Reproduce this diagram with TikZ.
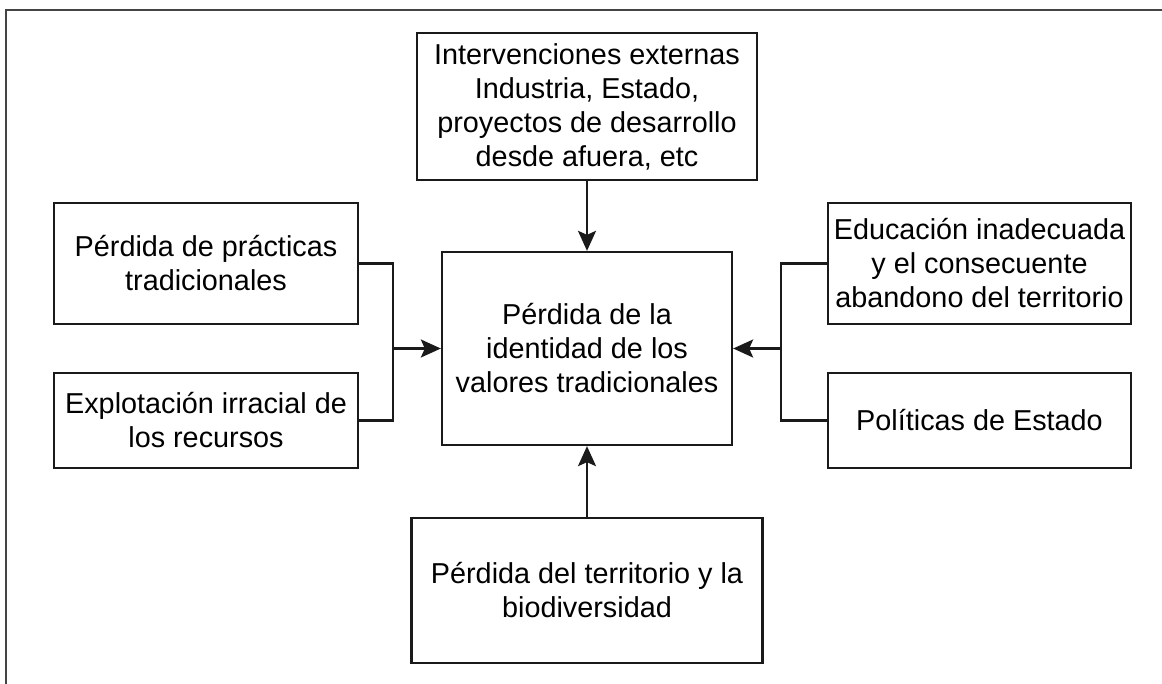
\documentclass[tikz,border=0pt]{standalone}
\usepackage{fontspec}
\setmainfont{Liberation Sans}
\usetikzlibrary{arrows.meta}
\definecolor{framegray}{HTML}{444444}
\definecolor{boxline}{HTML}{1A1A1A}
\tikzset{
  box/.style={draw=boxline, line width=2.3pt, rectangle, inner sep=0pt, align=center,
    font=\fontsize{28.8}{34}\selectfont, text=black},
  conn/.style={draw=boxline, line width=2.3pt},
  arr/.style={conn, -{Stealth[length=20pt,width=18pt,inset=4pt]}},
}
\begin{document}
\begin{tikzpicture}[x=1pt,y=-1pt]
\useasboundingbox (0,0) rectangle (1162,683);
% outer frame
\draw[framegray, line width=2.5pt] (6,690) -- (6,10) -- (1170,10);
% nodes
\node[box, minimum width=340pt, minimum height=147pt] (top) at (587,106.5)
  {Intervenciones externas\\Industria, Estado,\\proyectos de desarrollo\\desde afuera, etc};
\node[box, minimum width=290pt, minimum height=193pt] (c) at (587,348.5)
  {Pérdida de la\\identidad de los\\valores tradicionales};
\node[box, minimum width=304pt, minimum height=121pt] (lt) at (206,263.5)
  {Pérdida de prácticas\\tradicionales};
\node[box, minimum width=304pt, minimum height=95pt] (lb) at (206,420.5)
  {Explotación irracial de\\los recursos};
\node[box, minimum width=303pt, minimum height=121pt] (rt) at (979.5,263.5)
  {Educación inadecuada\\y el consecuente\\abandono del territorio};
\node[box, minimum width=303pt, minimum height=95pt] (rb) at (979.5,420.5)
  {Políticas de Estado};
\node[box, minimum width=351pt, minimum height=145pt] (bot) at (587,590.5)
  {Pérdida del territorio y la\\biodiversidad};
% junctions
\coordinate (jl) at (393,348.5);
\coordinate (jr) at (781,348.5);
% connectors
\draw[arr] (top.south) -- (c.north);
\draw[arr] (bot.north) -- (c.south);
\draw[conn] (lt.east) -| (jl);
\draw[conn] (lb.east) -| (jl);
\draw[arr] (jl) -- (c.west);
\draw[conn] (rt.west) -| (jr);
\draw[conn] (rb.west) -| (jr);
\draw[arr] (jr) -- (c.east);
\end{tikzpicture}
\end{document}
